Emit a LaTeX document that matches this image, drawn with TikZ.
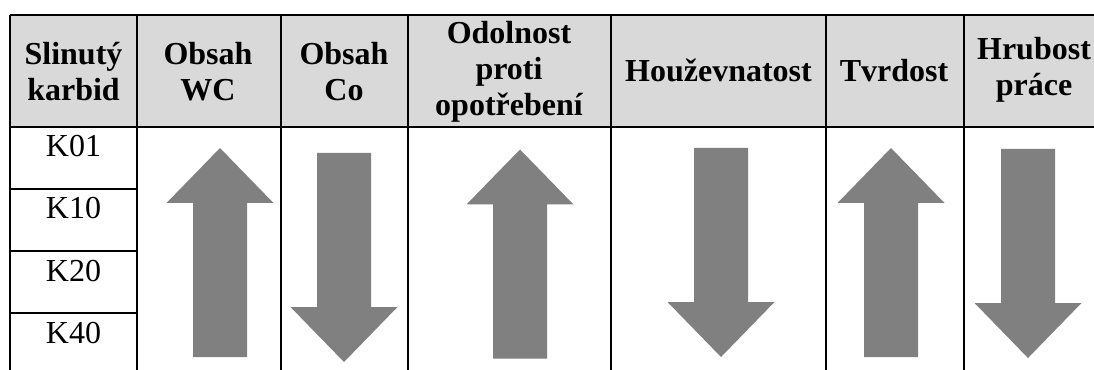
\documentclass[tikz,border=0pt]{standalone}
\usepackage{fontspec}
\setmainfont{Liberation Serif}
\usetikzlibrary{positioning}
\definecolor{headgray}{RGB}{217,217,217}
\definecolor{arrowgray}{RGB}{128,128,128}

\begin{document}
\begin{tikzpicture}[x=0.75pt, y=-0.75pt, node distance=46.5pt]
    \tikzstyle{headcell} = [align=center, font=\bfseries\fontsize{24}{27}\selectfont, inner sep=0pt]
    \tikzstyle{gradecell} = [font=\fontsize{24}{27}\selectfont, inner sep=0pt]
    \tikzstyle{gridline} = [line width=2pt, black]
    \tikzset{
      bigarrow/.pic={\fill[arrowgray] (0,-104.5) -- (53.5,-49.5) -- (27,-49.5) -- (27,104.5) -- (-27,104.5) -- (-27,-49.5) -- (-53.5,-49.5) -- cycle;}
    }
    \useasboundingbox (0,0) rectangle (1094,370);

    % Header background
    \fill[headgray] (10,15) rectangle (1094,127);

    % Header texts
    \node (slinuty) [headcell] at (73.5,72) {Slinutý\\karbid};
    \node (obsahwc) [headcell] at (208,72) {Obsah\\WC};
    \node (obsahco) [headcell] at (344,72) {Obsah\\Co};
    \node (odolnost) [headcell] at (509,72) {Odolnost\\proti\\opotřebení};
    \node (houzevnatost) [headcell, anchor=base] at (718.5,82) {Houževnatost};
    \node (tvrdost) [headcell, anchor=base] at (894,82) {Tvrdost};
    \node (hrubost) [headcell] at (1034,70) {Hrubost\\práce};

    % Grades
    \node (k01) [gradecell, anchor=base] at (73.5,157) {K01};
    \node (k10) [gradecell, below of=k01] {K10};
    \node (k20) [gradecell, below of=k10] {K20};
    \node (k40) [gradecell, below of=k20] {K40};

    % Grid
    \foreach \x in {10,137,281,408,611,826,964}
      \draw [gridline] (\x,15) -- (\x,370);
    \draw [gridline] (10,15) -- (1094,15);
    \draw [gridline] (10,127) -- (1094,127);
    \foreach \y in {189,251,313}
      \draw [gridline] (10,\y) -- (137,\y);

    % Arrows
    \pic (wcarrow) at (220,252.5) {bigarrow};
    \pic (coarrow) [rotate=180] at (344,257.5) {bigarrow};
    \pic (odolarrow) at (520,254) {bigarrow};
    \pic (houzarrow) [rotate=180] at (721,252.5) {bigarrow};
    \pic (tvrdarrow) at (891,252.5) {bigarrow};
    \pic (hrubarrow) [rotate=180] at (1028,253.5) {bigarrow};
\end{tikzpicture}
\end{document}
